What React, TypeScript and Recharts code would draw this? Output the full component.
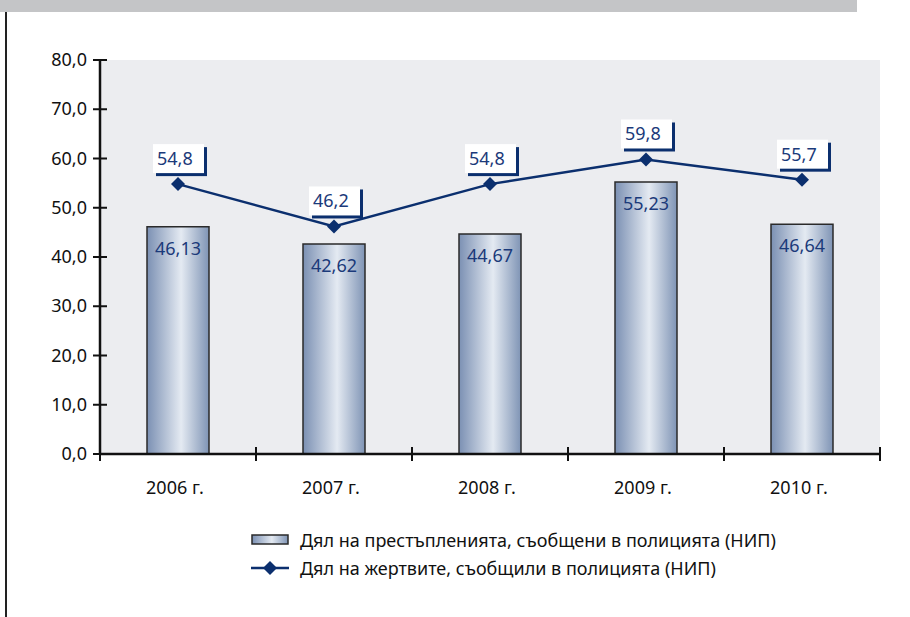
import React from 'react';
import { ComposedChart, Bar, Line, XAxis, YAxis, CartesianGrid, LabelList } from 'recharts';

const years = ['2006 г.', '2007 г.', '2008 г.', '2009 г.', '2010 г.'];
const crimesShare = [46.13, 42.62, 44.67, 55.23, 46.64];
const victimsShare = [54.8, 46.2, 54.8, 59.8, 55.7];
const yTicks = [0, 10, 20, 30, 40, 50, 60, 70, 80];

const barName = 'Дял на престъпленията, съобщени в полицията (НИП)';
const lineName = 'Дял на жертвите, съобщили в полицията (НИП)';

const data = years.map((year, i) => ({ year, crimes: crimesShare[i], victims: victimsShare[i] }));

const FONT = '"Noto Sans", "Open Sans", sans-serif';
const NAVY = '#0B2F6E';
const LABEL = '#1B3A7A';
const AXIS_X = 100;
const AXIS_Y = 454;

const comma = (v: number, d: number) => v.toFixed(d).replace('.', ',');

const YTick = (props: any) => {
  const { y, payload } = props;
  return (
    <g>
      <line x1={AXIS_X - 7} x2={AXIS_X + 7} y1={y} y2={y} stroke="#111" strokeWidth={2} />
      <text x={AXIS_X - 13} y={y} dy={6} textAnchor="end" fontFamily={FONT} fontSize={18} fill="#111">
        {comma(payload.value, 1)}
      </text>
    </g>
  );
};

const XTick = (props: any) => {
  const { x, payload, index } = props;
  const half = payload && payload.offset ? payload.offset : 78;
  return (
    <g>
      <line x1={x - half} x2={x - half} y1={AXIS_Y - 7} y2={AXIS_Y + 7} stroke="#111" strokeWidth={2} />
      {index === years.length - 1 && (
        <line x1={x + half} x2={x + half} y1={AXIS_Y - 7} y2={AXIS_Y + 7} stroke="#111" strokeWidth={2} />
      )}
      <text x={x - 3} y={AXIS_Y + 40} textAnchor="middle" fontFamily={FONT} fontSize={18} fill="#111">
        {payload.value}
      </text>
    </g>
  );
};

const BarLabel = (props: any) => {
  const { x, y, width, value } = props;
  return (
    <text x={x + width / 2} y={y + 28} textAnchor="middle" fontFamily={FONT} fontSize={18} fill={LABEL}>
      {comma(value, 2)}
    </text>
  );
};

const LineLabel = (props: any) => {
  const { x, y, value } = props;
  return (
    <g>
      <rect x={x - 22} y={y - 37} width={51} height={29} fill={NAVY} />
      <rect x={x - 25} y={y - 40} width={51} height={29} fill="#fff" />
      <text x={x - 21} y={y - 19} fontFamily={FONT} fontSize={18} fill={LABEL}>
        {comma(value, 1)}
      </text>
    </g>
  );
};

const Diamond = (props: any) => {
  const { cx, cy } = props;
  if (cx == null || cy == null) return null;
  const s = 7;
  return <polygon points={`${cx},${cy - s} ${cx + s},${cy} ${cx},${cy + s} ${cx - s},${cy}`} fill={NAVY} />;
};

const LegendBox = () => (
  <div
    style={{
      position: 'absolute',
      left: 251,
      top: 526,
      fontFamily: FONT,
      fontSize: 18,
      color: '#111',
      lineHeight: '28px',
      whiteSpace: 'nowrap',
    }}
  >
    <div style={{ display: 'flex', alignItems: 'center' }}>
      <svg width={40} height={14} style={{ marginRight: 9 }}>
        <rect x={1} y={2} width={36} height={9} fill="url(#barGrad)" stroke="#2A2A2A" strokeWidth={1.5} />
      </svg>
      <span>{barName}</span>
    </div>
    <div style={{ display: 'flex', alignItems: 'center' }}>
      <svg width={40} height={14} style={{ marginRight: 9 }}>
        <line x1={0} x2={38} y1={7} y2={7} stroke={NAVY} strokeWidth={2.5} />
        <polygon points="19,0 26,7 19,14 12,7" fill={NAVY} />
      </svg>
      <span>{lineName}</span>
    </div>
  </div>
);

export default function App() {
  return (
    <div style={{ position: 'absolute', left: 0, top: 0, width: 910, height: 617, background: '#fff' }}>
      <div style={{ position: 'absolute', left: 0, top: 0, width: 857, height: 12, background: '#C4C5C7' }} />
      <div style={{ position: 'absolute', left: 5, top: 12, width: 2, height: 605, background: '#222' }} />
      <ComposedChart
        width={910}
        height={617}
        data={data}
        margin={{ top: 60, right: 30, left: 0, bottom: 123 }}
      >
        <defs>
          <linearGradient id="barGrad" x1="0" y1="0" x2="1" y2="0">
            <stop offset="0%" stopColor="#7B90B3" />
            <stop offset="55%" stopColor="#E4EAF2" />
            <stop offset="100%" stopColor="#7F94B5" />
          </linearGradient>
        </defs>
        <CartesianGrid horizontal={false} vertical={false} fill="#ECEDF0" stroke="none" />
        <XAxis
          dataKey="year"
          axisLine={{ stroke: '#111', strokeWidth: 2.5 }}
          tickLine={false}
          tick={<XTick />}
          height={40}
          interval={0}
        />
        <YAxis
          domain={[0, 80]}
          ticks={yTicks}
          width={100}
          axisLine={{ stroke: '#111', strokeWidth: 2.5 }}
          tickLine={false}
          tick={<YTick />}
          interval={0}
        />
        <Bar dataKey="crimes" name={barName} fill="url(#barGrad)" stroke="#2A2A2A" strokeWidth={1.5} barSize={62} isAnimationActive={false}>
          <LabelList dataKey="crimes" content={<BarLabel />} />
        </Bar>
        <Line
          dataKey="victims"
          name={lineName}
          stroke={NAVY}
          strokeWidth={2.5}
          dot={<Diamond />}
          activeDot={false}
          type="linear"
          isAnimationActive={false}
        >
          <LabelList dataKey="victims" content={<LineLabel />} />
        </Line>
      </ComposedChart>
      <LegendBox />
    </div>
  );
}
